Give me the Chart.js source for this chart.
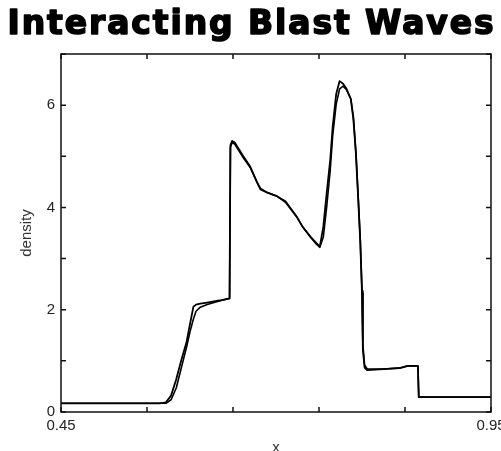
<!DOCTYPE html>
<html>
<head>
<meta charset="utf-8">
<script src="https://cdn.jsdelivr.net/npm/chart.js@4.4.1/dist/chart.umd.min.js"></script>
<style>
  html, body { margin: 0; padding: 0; background: #fff; }
  #grafico { display: block; }
</style>
</head>
<body>
<canvas id="grafico" width="501" height="451"></canvas>
<script>
const titulo = 'Interacting Blast Waves'
// posiciones x compartidas por las dos curvas
const xPos = [0.450, 0.565, 0.572, 0.578, 0.584, 0.590, 0.596, 0.600, 0.604, 0.607, 0.612, 0.620, 0.634, 0.646,
  0.647, 0.649, 0.652, 0.662, 0.670, 0.678, 0.682, 0.690, 0.701, 0.711, 0.724, 0.731, 0.740, 0.747, 0.751,
  0.755, 0.759, 0.763, 0.766, 0.770, 0.774, 0.778, 0.782, 0.787, 0.790, 0.793, 0.796, 0.798, 0.800, 0.801,
  0.803, 0.806, 0.825, 0.844, 0.853, 0.865, 0.866, 0.950]
const densidadA = [0.17, 0.17, 0.19, 0.32, 0.64, 1.02, 1.37, 1.72, 2.06, 2.10, 2.12, 2.14, 2.18, 2.22,
  5.22, 5.30, 5.27, 5.00, 4.80, 4.49, 4.35, 4.29, 4.22, 4.12, 3.82, 3.62, 3.43, 3.30, 3.24,
  3.62, 4.29, 4.92, 5.59, 6.22, 6.47, 6.42, 6.32, 6.12, 5.72, 5.02, 4.02, 3.32, 2.32, 1.22,
  0.87, 0.82, 0.84, 0.86, 0.90, 0.90, 0.29, 0.29]
const densidadB = [0.17, 0.17, 0.17, 0.24, 0.47, 0.87, 1.27, 1.57, 1.82, 1.97, 2.05, 2.10, 2.17, 2.22,
  5.17, 5.27, 5.24, 4.97, 4.78, 4.49, 4.37, 4.29, 4.22, 4.10, 3.82, 3.62, 3.42, 3.28, 3.22,
  3.42, 4.02, 4.72, 5.42, 6.02, 6.32, 6.37, 6.30, 6.12, 5.77, 5.07, 4.07, 3.37, 2.37, 1.32,
  0.92, 0.84, 0.84, 0.86, 0.90, 0.90, 0.29, 0.29]
const xTicks = [0.45, 0.55, 0.65, 0.75, 0.85, 0.95]
const xTickLabels = ['0.45', '', '', '', '', '0.95']
const yTicks = [0, 1, 2, 3, 4, 5, 6, 7]
const yTickLabels = ['0', '', '2', '', '4', '', '6', '']

function puntos (ys) {
  return xPos.map((x, i) => ({ x: x, y: ys[i] }))
}

// marco con marcas hacia adentro en los cuatro lados
const marco = {
  id: 'marco',
  afterDatasetsDraw (chart) {
    const { ctx, chartArea: a, scales: { x, y } } = chart
    ctx.save()
    ctx.strokeStyle = '#111'
    ctx.lineWidth = 1.5
    ctx.strokeRect(a.left, a.top, a.right - a.left, a.bottom - a.top)
    ctx.beginPath()
    xTicks.forEach(v => {
      const px = x.getPixelForValue(v)
      ctx.moveTo(px, a.bottom); ctx.lineTo(px, a.bottom - 5)
      ctx.moveTo(px, a.top); ctx.lineTo(px, a.top + 5)
    })
    yTicks.forEach(v => {
      const py = y.getPixelForValue(v)
      ctx.moveTo(a.left, py); ctx.lineTo(a.left + 5, py)
      ctx.moveTo(a.right, py); ctx.lineTo(a.right - 5, py)
    })
    ctx.stroke()
    ctx.restore()
  }
}

// titulo grueso y ancho
const tituloEspaciado = {
  id: 'tituloEspaciado',
  afterDraw (chart) {
    const ctx = chart.ctx
    ctx.save()
    ctx.font = 'bold 33px "DejaVu Sans"'
    ctx.letterSpacing = '1.9px'
    ctx.fillStyle = '#000'
    ctx.strokeStyle = '#000'
    ctx.lineWidth = 1.6
    ctx.lineJoin = 'round'
    ctx.textAlign = 'center'
    ctx.textBaseline = 'alphabetic'
    ctx.fillText(titulo, chart.width / 2 + 1, 34)
    ctx.strokeText(titulo, chart.width / 2 + 1, 34)
    ctx.restore()
  }
}

const ctx = document.getElementById('grafico').getContext('2d')
const grafico = new Chart(ctx, {
  type: 'line',
  data: {
    datasets: [{
      data: puntos(densidadA),
      borderColor: '#000',
      borderWidth: 1.8,
      borderJoinStyle: 'round',
      pointRadius: 0,
      tension: 0,
      fill: false
    }, {
      data: puntos(densidadB),
      borderColor: '#000',
      borderWidth: 1.6,
      borderJoinStyle: 'round',
      pointRadius: 0,
      tension: 0,
      fill: false
    }]
  },
  options: {
    responsive: false,
    animation: false,
    layout: { padding: { top: 54, right: 10, bottom: 0, left: 0 } },
    plugins: {
      legend: { display: false },
      tooltip: { enabled: false },
      title: { display: false }
    },
    scales: {
      x: {
        type: 'linear',
        min: 0.45,
        max: 0.95,
        afterBuildTicks: scale => { scale.ticks = xTicks.map(v => ({ value: v })) },
        afterFit: scale => { scale.height = 39; scale.paddingLeft = 0; scale.paddingRight = 0 },
        ticks: {
          autoSkip: false,
          maxRotation: 0,
          padding: 5,
          color: '#222',
          font: { family: '"Liberation Sans", Arial, sans-serif', size: 15 },
          callback: (v, i) => xTickLabels[i]
        },
        grid: { display: false, drawTicks: false },
        border: { display: false },
        title: {
          display: true,
          text: 'x',
          color: '#333',
          font: { family: '"Liberation Sans", Arial, sans-serif', size: 15, lineHeight: 0.45 },
          padding: { top: 0, bottom: 0 }
        }
      },
      y: {
        type: 'linear',
        min: 0,
        max: 7,
        afterBuildTicks: scale => { scale.ticks = yTicks.map(v => ({ value: v })) },
        afterFit: scale => { scale.width = 61; scale.paddingTop = 0; scale.paddingBottom = 0 },
        ticks: {
          autoSkip: false,
          padding: 6,
          color: '#222',
          font: { family: '"Liberation Sans", Arial, sans-serif', size: 15 },
          callback: (v, i) => yTickLabels[i]
        },
        grid: { display: false, drawTicks: false },
        border: { display: false },
        title: {
          display: true,
          text: 'density',
          color: '#333',
          font: { family: '"Liberation Sans", Arial, sans-serif', size: 15 },
          padding: { top: 18, bottom: 0 }
        }
      }
    }
  },
  plugins: [marco, tituloEspaciado]
})
</script>
</body>
</html>
